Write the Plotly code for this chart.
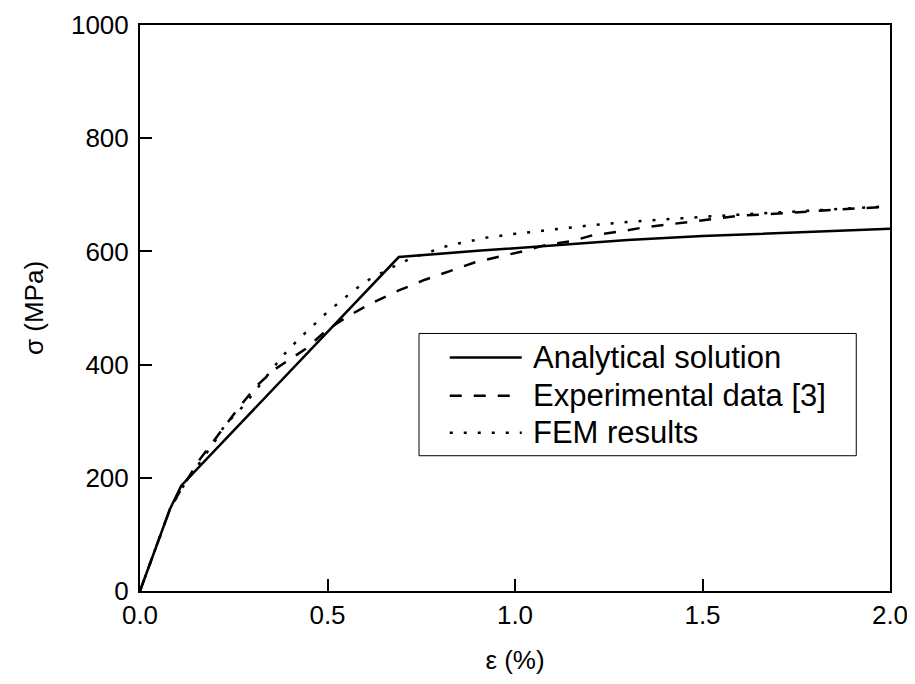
import plotly.graph_objects as go

# Analytical solution
eps_analytical = [0.0, 0.08, 0.11, 0.69, 0.9, 1.1, 1.3, 1.5, 1.75, 2.0]
sig_analytical = [0, 145, 186, 590, 601, 611, 620, 627, 634, 640]

# Experimental data [3]
eps_exp = [0.0, 0.08, 0.11, 0.16, 0.2, 0.26, 0.31, 0.36, 0.44, 0.5, 0.556, 0.61, 0.69,
           0.76, 0.83, 0.89, 0.96, 1.02, 1.08, 1.15, 1.21, 1.28, 1.34, 1.47, 1.6, 1.73, 1.86, 2.0]
sig_exp = [0, 145, 180, 233, 268, 321, 362, 392, 427, 462, 486, 506, 531,
           550, 566, 580, 591, 600, 611, 618, 629, 635, 642, 653, 663, 668, 674, 679]

# FEM results
eps_fem = [0.0, 0.08, 0.11, 0.147, 0.173, 0.2, 0.23, 0.26, 0.29, 0.32, 0.35, 0.38, 0.42, 0.46,
           0.5, 0.535, 0.57, 0.61, 0.69, 0.73, 0.77, 0.8, 0.84, 0.88, 0.92, 1.0, 1.1, 1.2,
           1.3, 1.4, 1.5, 1.6, 1.7, 1.8, 1.9, 2.0]
sig_fem = [0, 145, 180, 215, 239, 265, 297, 315, 339, 365, 390, 415, 443, 468,
           493, 512, 531, 550, 578, 590, 598, 606, 613, 618, 624, 631, 639, 646,
           652, 657, 661, 665, 669, 673, 676, 680]

series_names = ["Analytical solution", "Experimental data [3]", "FEM results"]
x_ticks = [0.0, 0.5, 1.0, 1.5, 2.0]
y_ticks = [0, 200, 400, 600, 800, 1000]

FONT = "Liberation Sans, Arial, sans-serif"
DASHES = ["solid", "12px,12px", "3px,11px"]
LW = 2.5

fig = go.Figure()
for xs, ys, name, dash in zip([eps_analytical, eps_exp, eps_fem],
                              [sig_analytical, sig_exp, sig_fem],
                              series_names, DASHES):
    fig.add_trace(go.Scatter(x=xs, y=ys, mode="lines", name=name,
                             showlegend=False,
                             line=dict(color="black", width=LW, dash=dash)))

axis_common = dict(
    showline=True, linecolor="black", linewidth=2, mirror=True,
    ticks="inside", ticklen=12, tickwidth=1.5, tickcolor="black",
    showgrid=False, zeroline=False, automargin=False,
    tickfont=dict(family=FONT, size=26, color="black"),
)

fig.update_xaxes(range=[0, 2.0], tickvals=x_ticks,
                 ticktext=[f"{v:.1f}" for v in x_ticks],
                 title=dict(text="ε (%)", font=dict(family=FONT, size=26, color="black"), standoff=22),
                 **axis_common)
fig.update_yaxes(range=[0, 1000], tickvals=y_ticks,
                 ticktext=[str(v) for v in y_ticks],
                 ticklabelstandoff=4,
                 title=dict(text="σ (MPa)", font=dict(family=FONT, size=26, color="black"), standoff=20),
                 **axis_common)

# Legend box drawn in paper coordinates
LEG_X0, LEG_X1, LEG_Y0, LEG_Y1 = 0.372, 0.955, 0.239, 0.455
SAMPLE_X0, SAMPLE_X1, TEXT_X = 0.413, 0.509, 0.521
ROW_Y = [0.4124, 0.3451, 0.2796]

shapes = [dict(type="rect", xref="paper", yref="paper",
               x0=LEG_X0, x1=LEG_X1, y0=LEG_Y0, y1=LEG_Y1,
               line=dict(color="black", width=1), fillcolor="white", layer="above")]
annotations = []
for name, dash, ry in zip(series_names, DASHES, ROW_Y):
    shapes.append(dict(type="line", xref="paper", yref="paper",
                       x0=SAMPLE_X0, x1=SAMPLE_X1, y0=ry, y1=ry,
                       line=dict(color="black", width=LW, dash=dash), layer="above"))
    annotations.append(dict(xref="paper", yref="paper", x=TEXT_X, y=ry,
                            xanchor="left", yanchor="middle", showarrow=False,
                            text=name, font=dict(family=FONT, size=31, color="black")))

fig.update_layout(
    width=907, height=676,
    margin=dict(l=132, r=25, t=17, b=93),
    plot_bgcolor="white", paper_bgcolor="white",
    font=dict(family=FONT, color="black"),
    showlegend=False,
    shapes=shapes,
    annotations=annotations,
)

fig.write_html("out.html")
